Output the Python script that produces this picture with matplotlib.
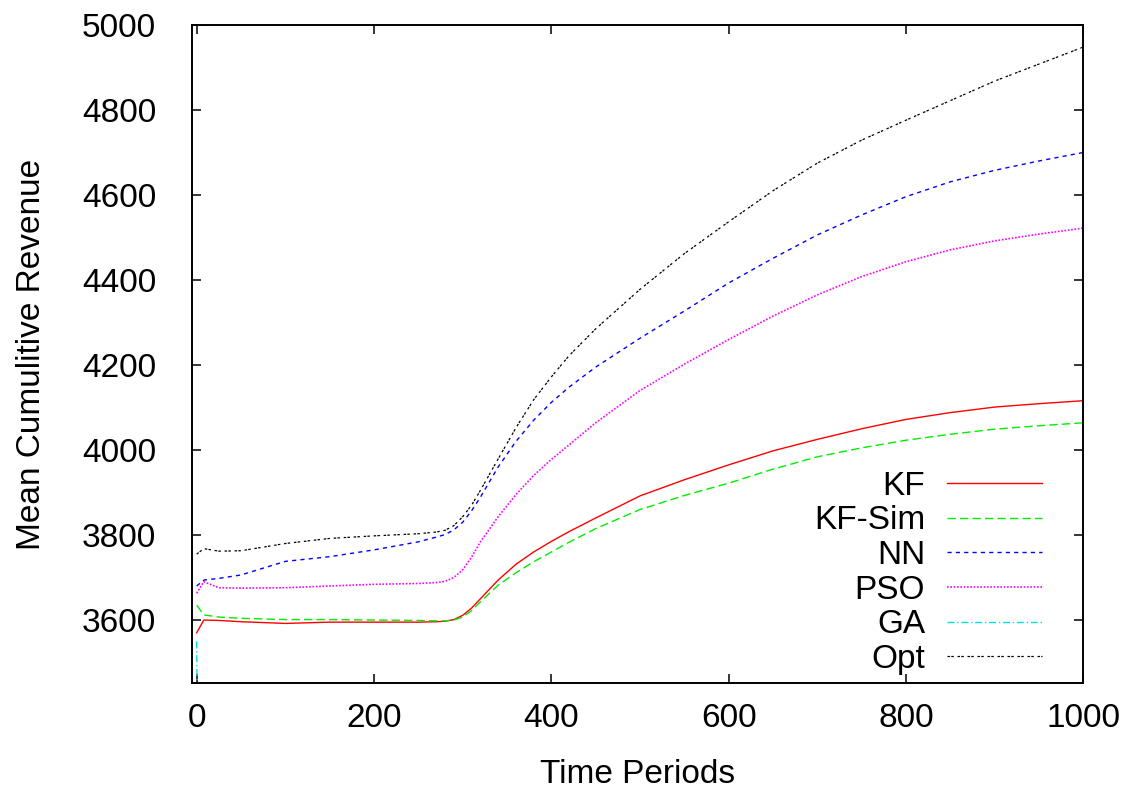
import numpy as np
import matplotlib
matplotlib.use('Agg')
import matplotlib.pyplot as plt

plt.rcParams['font.family'] = ['Liberation Sans', 'DejaVu Sans']

# 时间点
t = [0, 8, 25, 50, 100, 150, 200, 250, 270, 280, 290, 300, 310, 320, 340, 360, 380,
     400, 420, 450, 500, 550, 600, 650, 700, 750, 800, 850, 900, 950, 1000]

kf = [3570, 3600, 3599, 3596, 3592, 3595, 3595, 3595, 3596, 3597, 3601, 3611, 3628, 3650,
      3694, 3731, 3760, 3785, 3808, 3840, 3892, 3930, 3965, 3998, 4025, 4050, 4072, 4088,
      4101, 4109, 4116]
kf_sim = [3635, 3612, 3607, 3604, 3601, 3601, 3600, 3599, 3598, 3598, 3600, 3607, 3622, 3643,
          3682, 3711, 3737, 3760, 3783, 3815, 3860, 3893, 3922, 3955, 3984, 4005, 4023, 4037,
          4049, 4057, 4064]
nn = [3680, 3694, 3698, 3706, 3738, 3749, 3765, 3784, 3795, 3801, 3812, 3830, 3857, 3889,
      3960, 4020, 4070, 4112, 4148, 4195, 4263, 4327, 4393, 4451, 4506, 4553, 4596, 4631,
      4658, 4680, 4700]
pso = [3663, 3690, 3676, 3675, 3676, 3680, 3684, 3686, 3688, 3691, 3700, 3718, 3748, 3784,
       3843, 3895, 3940, 3978, 4012, 4064, 4140, 4202, 4260, 4315, 4365, 4408, 4443, 4471,
       4492, 4508, 4522]
opt = [3755, 3768, 3762, 3763, 3780, 3792, 3798, 3803, 3807, 3811, 3822, 3843, 3870, 3905,
       3979, 4052, 4118, 4172, 4222, 4285, 4378, 4462, 4537, 4610, 4675, 4729, 4776, 4822,
       4868, 4908, 4948]

# GA 几乎全部在图外
t_ga = [0, 2, 10, 50]
ga = [3550, 3000, 2800, 2700]

fig = plt.figure(figsize=(11.39, 7.90), dpi=100)
ax = fig.add_axes([0.1688, 0.135, 0.9511 - 0.1688, 0.9684 - 0.135])

ax.plot(t, kf, color='#ff0000', lw=1.0, label='KF')
ax.plot(t, kf_sim, color='#00ee00', lw=1.0, dashes=(6, 3), label='KF-Sim')
ax.plot(t, nn, color='#0000ff', lw=1.0, dashes=(3, 3), label='NN')
ax.plot(t, pso, color='#ff00ff', lw=1.2, dashes=(1, 1), label='PSO')
ax.plot(t_ga, ga, color='#00e0e0', lw=1.0, dashes=(5, 2, 1, 2), label='GA')
ax.plot(t, opt, color='black', lw=0.9, dashes=(2, 1, 2, 3), label='Opt')

ax.set_xlim(-5, 1000)
ax.set_ylim(3451, 5000)
ax.set_xticks(np.arange(0, 1001, 200))
ax.set_yticks(np.arange(3600, 5001, 200))

ax.tick_params(direction='in', length=6.7, width=1.1, labelsize=24,
               top=True, right=True)
ax.tick_params(axis='x', pad=14)
ax.tick_params(axis='y', pad=26)
for s in ax.spines.values():
    s.set_linewidth(1.4)

ax.set_xlabel('Time Periods', fontsize=24, labelpad=18)
ax.set_ylabel('Mean Cumulitive Revenue', fontsize=24, labelpad=25)

ax.legend(loc='lower right', bbox_to_anchor=(0.9537, 0.0126), frameon=False,
          fontsize=24, markerfirst=False, handlelength=2.85, handletextpad=0.66,
          labelspacing=0.11, borderpad=0, borderaxespad=0)

plt.savefig('out.png', dpi=100)
